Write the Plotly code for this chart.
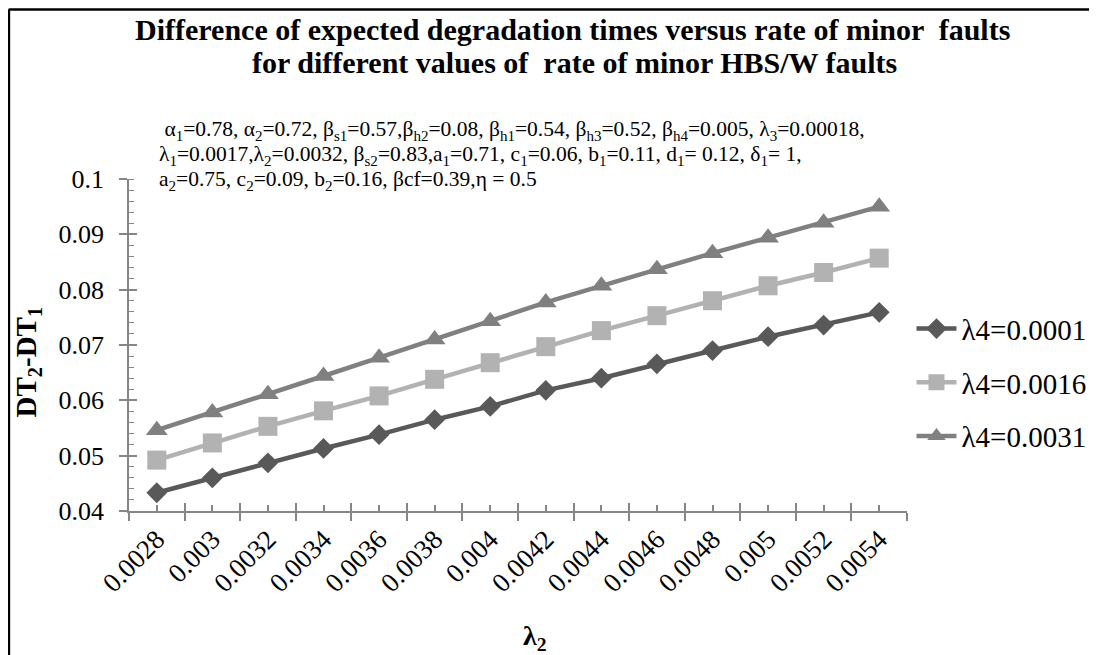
import plotly.graph_objects as go

# ---- data ----
lambda2_labels = ["0.0028", "0.003", "0.0032", "0.0034", "0.0036", "0.0038", "0.004",
                  "0.0042", "0.0044", "0.0046", "0.0048", "0.005", "0.0052", "0.0054"]
series_names = ["λ4=0.0001", "λ4=0.0016", "λ4=0.0031"]
s_0001 = [0.0433, 0.0460, 0.0487, 0.0513, 0.0538, 0.0565, 0.0589,
          0.0618, 0.0640, 0.0666, 0.0690, 0.0715, 0.0736, 0.0759]
s_0016 = [0.0492, 0.0523, 0.0553, 0.0581, 0.0608, 0.0638, 0.0668,
          0.0697, 0.0726, 0.0753, 0.0780, 0.0807, 0.0831, 0.0857]
s_0031 = [0.0546, 0.0578, 0.0611, 0.0644, 0.0677, 0.0710, 0.0743,
          0.0777, 0.0807, 0.0837, 0.0866, 0.0894, 0.0921, 0.0950]
y_ticks = [0.04, 0.05, 0.06, 0.07, 0.08, 0.09, 0.1]
y_ticktext = ["0.04", "0.05", "0.06", "0.07", "0.08", "0.09", "0.1"]

FONT = "Liberation Serif, Times New Roman, serif"
AXIS_GREY = "#868686"

# page body adds an 8px offset; work in screenshot pixels via helpers
OFF = 8
W, H = 1089, 647
L = 129.3 - OFF
PR = 907.5 - OFF
T = 179 - OFF
PB = 511.5 - OFF
R = W - PR
B = H - PB
pw, ph = PR - L, PB - T

def px_x(p):
    return (p - OFF - L) / pw

def px_y(p):
    return (PB - (p - OFF)) / ph

styles = [
    dict(color="#595959", symbol="diamond", size=16),
    dict(color="#B2B2B2", symbol="square", size=19),
    dict(color="#808080", symbol="triangle-up", size=19),
]

fig = go.Figure()
for name, vals, st, grp in zip(series_names, [s_0001, s_0016, s_0031], styles, ["a", "b", "c"]):
    fig.add_trace(go.Scatter(
        x=lambda2_labels, y=vals, name=name, mode="lines+markers",
        legendgroup=grp,
        line=dict(color=st["color"], width=4.5),
        marker=dict(symbol=st["symbol"], size=st["size"], color=st["color"],
                    line=dict(width=0)),
    ))

n = len(lambda2_labels)
boundaries = [i - 0.5 for i in range(n + 1)]
centers = list(range(n))

fig.update_layout(
    width=W, height=H,
    margin=dict(l=L, r=R, t=T, b=B, autoexpand=False),
    paper_bgcolor="white", plot_bgcolor="white",
    font=dict(family=FONT, color="black"),
    showlegend=True,
    legend=dict(x=px_x(912), y=px_y(383), xanchor="left", yanchor="middle",
                font=dict(family=FONT, size=29, color="black"),
                tracegroupgap=13, itemwidth=40, bgcolor="rgba(0,0,0,0)"),
    xaxis=dict(type="category", range=[-0.5, n - 0.5], automargin=False,
               showline=True, linecolor=AXIS_GREY, linewidth=1.5,
               showgrid=False, zeroline=False,
               tickson="boundaries", ticks="outside", ticklen=8,
               tickcolor=AXIS_GREY, tickwidth=1.5,
               tickangle=-45, tickfont=dict(family=FONT, size=27, color="black")),
    xaxis2=dict(overlaying="x", anchor="y", range=[-0.5, n - 0.5], automargin=False,
                showline=False, showgrid=False, zeroline=False,
                tickmode="array", tickvals=boundaries, ticks="inside", ticklen=8,
                tickcolor=AXIS_GREY, tickwidth=1.5, showticklabels=False,
                minor=dict(tickmode="array", tickvals=centers, ticks="inside", ticklen=6,
                           tickcolor=AXIS_GREY, tickwidth=1.5, showgrid=False)),
    yaxis=dict(range=[0.04, 0.1], automargin=False,
               showline=True, linecolor=AXIS_GREY, linewidth=1.5,
               showgrid=False, zeroline=False,
               tickmode="array", tickvals=y_ticks, ticktext=y_ticktext,
               ticks="outside", ticklen=8, tickcolor=AXIS_GREY, tickwidth=1.5,
               ticklabelstandoff=10,
               tickfont=dict(family=FONT, size=26, color="black"),
               minor=dict(dtick=0.002, ticks="inside", ticklen=5,
                          tickcolor=AXIS_GREY, tickwidth=1.2, showgrid=False)),
    yaxis2=dict(overlaying="y", anchor="x", range=[0.04, 0.1], automargin=False,
                showline=False, showgrid=False, zeroline=False,
                tickmode="array", tickvals=y_ticks, ticks="inside", ticklen=8,
                tickcolor=AXIS_GREY, tickwidth=1.5, showticklabels=False),
)

# empty helper trace so the overlay tick axes render
fig.add_trace(go.Scatter(x=[], y=[], xaxis="x2", yaxis="y2", showlegend=False, hoverinfo="skip"))

# chart title (two lines)
fig.add_annotation(text="<b>Difference of expected degradation times versus rate of minor  faults</b>",
                   xref="paper", yref="paper", x=px_x(573), y=px_y(29),
                   showarrow=False, font=dict(family=FONT, size=30, color="black"),
                   xanchor="center", yanchor="middle")
fig.add_annotation(text="<b>for different values of  rate of minor HBS/W faults</b>",
                   xref="paper", yref="paper", x=px_x(575), y=px_y(62),
                   showarrow=False, font=dict(family=FONT, size=30, color="black"),
                   xanchor="center", yanchor="middle")

param_lines = [
    " α<sub>1</sub>=0.78, α<sub>2</sub>=0.72, β<sub>s1</sub>=0.57,β<sub>h2</sub>=0.08, β<sub>h1</sub>=0.54, "
    "β<sub>h3</sub>=0.52, β<sub>h4</sub>=0.005, λ<sub>3</sub>=0.00018,",
    "λ<sub>1</sub>=0.0017,λ<sub>2</sub>=0.0032, β<sub>s2</sub>=0.83,a<sub>1</sub>=0.71, c<sub>1</sub>=0.06, "
    "b<sub>1</sub>=0.11, d<sub>1</sub>= 0.12, δ<sub>1</sub>= 1,",
    "a<sub>2</sub>=0.75, c<sub>2</sub>=0.09, b<sub>2</sub>=0.16, βcf=0.39,η = 0.5",
]
for line, yp in zip(param_lines, [130, 155, 181]):
    fig.add_annotation(text=line, xref="paper", yref="paper", x=px_x(157), y=px_y(yp),
                       showarrow=False, font=dict(family=FONT, size=21.5, color="black"),
                       xanchor="left", yanchor="middle", align="left")

# axis titles
fig.add_annotation(text="<b>DT<sub>2</sub>-DT<sub>1</sub></b>", xref="paper", yref="paper",
                   x=px_x(28), y=px_y(362), textangle=-90, showarrow=False,
                   font=dict(family=FONT, size=29, color="black"),
                   xanchor="center", yanchor="middle")
fig.add_annotation(text="<b>λ<sub>2</sub></b>", xref="paper", yref="paper",
                   x=px_x(535), y=px_y(638), showarrow=False,
                   font=dict(family=FONT, size=28, color="black"),
                   xanchor="center", yanchor="middle")

# outer frame (top and left edges visible in the reference)
fig.add_shape(type="line", xref="paper", yref="paper", x0=px_x(9), x1=px_x(1110),
              y0=px_y(9.2), y1=px_y(9.2), line=dict(color="black", width=2.5))
fig.add_shape(type="line", xref="paper", yref="paper", x0=px_x(9.2), x1=px_x(9.2),
              y0=px_y(9), y1=px_y(680), line=dict(color="black", width=2.5))

fig.write_html("out.html")
